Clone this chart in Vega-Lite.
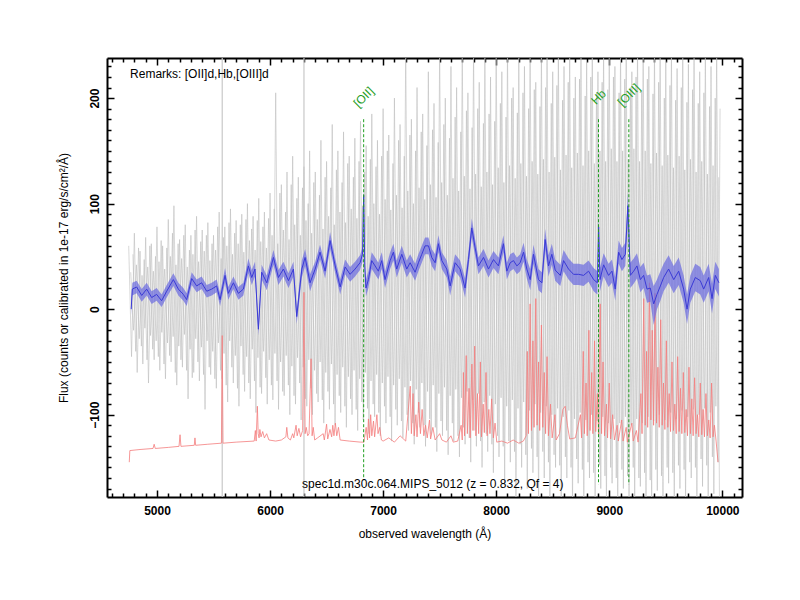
{
  "$schema": "https://vega.github.io/schema/vega-lite/v6.json",
  "width": 635,
  "height": 439,
  "autosize": "none",
  "padding": {"left": 107, "top": 58, "right": 58, "bottom": 103},
  "background": "white",
  "config": {
    "view": {"stroke": null},
    "font": "Liberation Sans",
    "axis": {
      "grid": false,
      "domainColor": "black",
      "domainWidth": 2,
      "tickColor": "black",
      "tickWidth": 1.5,
      "labelFont": "Liberation Sans",
      "labelFontWeight": "bold",
      "labelFontSize": 12,
      "labelColor": "black",
      "titleFont": "Liberation Sans",
      "titleFontWeight": "normal",
      "titleFontSize": 12,
      "titleColor": "black"
    }
  },
  "datasets": {
    "gray": [
      {"s": "a", "w": 4750, "f": 60}, {"s": "a", "w": 4775, "f": -45}, {"s": "a", "w": 4800, "f": 72}, {"s": "a", "w": 4825, "f": -60},
      {"s": "a", "w": 4850, "f": 55}, {"s": "a", "w": 4875, "f": -52}, {"s": "a", "w": 4900, "f": 68}, {"s": "a", "w": 4925, "f": -70},
      {"s": "a", "w": 4950, "f": 62}, {"s": "a", "w": 4975, "f": -48}, {"s": "a", "w": 5000, "f": 78}, {"s": "a", "w": 5025, "f": -58},
      {"s": "a", "w": 5050, "f": 60}, {"s": "a", "w": 5075, "f": -66}, {"s": "a", "w": 5100, "f": 85}, {"s": "a", "w": 5125, "f": -50},
      {"s": "a", "w": 5150, "f": 98}, {"s": "a", "w": 5175, "f": -72}, {"s": "a", "w": 5200, "f": 66}, {"s": "a", "w": 5225, "f": -55},
      {"s": "a", "w": 5250, "f": 80}, {"s": "a", "w": 5275, "f": -85}, {"s": "a", "w": 5300, "f": 70}, {"s": "a", "w": 5325, "f": -60},
      {"s": "a", "w": 5350, "f": 88}, {"s": "a", "w": 5375, "f": -68}, {"s": "a", "w": 5400, "f": 75}, {"s": "a", "w": 5425, "f": -95},
      {"s": "a", "w": 5450, "f": 82}, {"s": "a", "w": 5475, "f": -62}, {"s": "a", "w": 5500, "f": 70}, {"s": "a", "w": 5525, "f": -75},
      {"s": "a", "w": 5550, "f": 92}, {"s": "a", "w": 5575, "f": -66}, {"s": "a", "w": 5600, "f": 78}, {"s": "a", "w": 5625, "f": -88},
      {"s": "a", "w": 5650, "f": 95}, {"s": "a", "w": 5675, "f": -70}, {"s": "a", "w": 5700, "f": 84}, {"s": "a", "w": 5725, "f": -92},
      {"s": "a", "w": 5750, "f": 90}, {"s": "a", "w": 5775, "f": -78}, {"s": "a", "w": 5800, "f": 100}, {"s": "a", "w": 5825, "f": -85},
      {"s": "a", "w": 5850, "f": 88}, {"s": "a", "w": 5875, "f": -98}, {"s": "a", "w": 5900, "f": 105}, {"s": "a", "w": 5925, "f": -80},
      {"s": "a", "w": 5950, "f": 92}, {"s": "a", "w": 5975, "f": -90}, {"s": "a", "w": 6000, "f": 110}, {"s": "a", "w": 6025, "f": -86},
      {"s": "a", "w": 6050, "f": 205}, {"s": "a", "w": 6075, "f": -95}, {"s": "a", "w": 6100, "f": 118}, {"s": "a", "w": 6125, "f": -82},
      {"s": "a", "w": 6150, "f": 130}, {"s": "a", "w": 6175, "f": -100}, {"s": "a", "w": 6200, "f": 145}, {"s": "a", "w": 6225, "f": -90},
      {"s": "a", "w": 6250, "f": 125}, {"s": "a", "w": 6275, "f": -105}, {"s": "a", "w": 6300, "f": 135}, {"s": "a", "w": 6325, "f": -92},
      {"s": "a", "w": 6350, "f": 150}, {"s": "a", "w": 6375, "f": -100}, {"s": "a", "w": 6400, "f": 130}, {"s": "a", "w": 6425, "f": -88},
      {"s": "a", "w": 6450, "f": 160}, {"s": "a", "w": 6475, "f": -108}, {"s": "a", "w": 6500, "f": 140}, {"s": "a", "w": 6525, "f": -95},
      {"s": "a", "w": 6550, "f": 175}, {"s": "a", "w": 6575, "f": -110}, {"s": "a", "w": 6600, "f": 150}, {"s": "a", "w": 6625, "f": -98},
      {"s": "a", "w": 6650, "f": 168}, {"s": "a", "w": 6675, "f": -112}, {"s": "a", "w": 6700, "f": 145}, {"s": "a", "w": 6725, "f": -100},
      {"s": "a", "w": 6750, "f": 162}, {"s": "a", "w": 6775, "f": -115}, {"s": "a", "w": 6800, "f": 178}, {"s": "a", "w": 6825, "f": -105},
      {"s": "a", "w": 6850, "f": 155}, {"s": "a", "w": 6875, "f": -118}, {"s": "a", "w": 6900, "f": 185}, {"s": "a", "w": 6925, "f": -102},
      {"s": "a", "w": 6950, "f": 160}, {"s": "a", "w": 6975, "f": -120}, {"s": "a", "w": 7000, "f": 190}, {"s": "a", "w": 7025, "f": -108},
      {"s": "a", "w": 7050, "f": 165}, {"s": "a", "w": 7075, "f": -125}, {"s": "a", "w": 7100, "f": 200}, {"s": "a", "w": 7125, "f": -110},
      {"s": "a", "w": 7150, "f": 175}, {"s": "a", "w": 7175, "f": -122}, {"s": "a", "w": 7200, "f": 245}, {"s": "a", "w": 7225, "f": -115},
      {"s": "a", "w": 7250, "f": 180}, {"s": "a", "w": 7275, "f": -128}, {"s": "a", "w": 7300, "f": 210}, {"s": "a", "w": 7325, "f": -112},
      {"s": "a", "w": 7350, "f": 185}, {"s": "a", "w": 7375, "f": -130}, {"s": "a", "w": 7400, "f": 225}, {"s": "a", "w": 7425, "f": -118},
      {"s": "a", "w": 7450, "f": 195}, {"s": "a", "w": 7475, "f": -135}, {"s": "a", "w": 7500, "f": 245}, {"s": "a", "w": 7525, "f": -120},
      {"s": "a", "w": 7550, "f": 200}, {"s": "a", "w": 7575, "f": -138}, {"s": "a", "w": 7600, "f": 230}, {"s": "a", "w": 7625, "f": -125},
      {"s": "a", "w": 7650, "f": 210}, {"s": "a", "w": 7675, "f": -140}, {"s": "a", "w": 7700, "f": 245}, {"s": "a", "w": 7725, "f": -128},
      {"s": "a", "w": 7750, "f": 205}, {"s": "a", "w": 7775, "f": -145}, {"s": "a", "w": 7800, "f": 245}, {"s": "a", "w": 7825, "f": -130},
      {"s": "a", "w": 7850, "f": 215}, {"s": "a", "w": 7875, "f": -150}, {"s": "a", "w": 7900, "f": 245}, {"s": "a", "w": 7925, "f": -135},
      {"s": "a", "w": 7950, "f": 220}, {"s": "a", "w": 7975, "f": -155}, {"s": "a", "w": 8000, "f": 245}, {"s": "a", "w": 8025, "f": -140},
      {"s": "a", "w": 8050, "f": 225}, {"s": "a", "w": 8075, "f": -165}, {"s": "a", "w": 8100, "f": 245}, {"s": "a", "w": 8125, "f": -145},
      {"s": "a", "w": 8150, "f": 210}, {"s": "a", "w": 8175, "f": -185}, {"s": "a", "w": 8200, "f": 245}, {"s": "a", "w": 8225, "f": -150},
      {"s": "a", "w": 8250, "f": 230}, {"s": "a", "w": 8275, "f": -170}, {"s": "a", "w": 8300, "f": 245}, {"s": "a", "w": 8325, "f": -155},
      {"s": "a", "w": 8350, "f": 215}, {"s": "a", "w": 8375, "f": -185}, {"s": "a", "w": 8400, "f": 245}, {"s": "a", "w": 8425, "f": -160},
      {"s": "a", "w": 8450, "f": 245}, {"s": "a", "w": 8475, "f": -185}, {"s": "a", "w": 8500, "f": 225}, {"s": "a", "w": 8525, "f": -150},
      {"s": "a", "w": 8550, "f": 245}, {"s": "a", "w": 8575, "f": -185}, {"s": "a", "w": 8600, "f": 230}, {"s": "a", "w": 8625, "f": -160},
      {"s": "a", "w": 8650, "f": 245}, {"s": "a", "w": 8675, "f": -185}, {"s": "a", "w": 8700, "f": 220}, {"s": "a", "w": 8725, "f": -165},
      {"s": "a", "w": 8750, "f": 245}, {"s": "a", "w": 8775, "f": -185}, {"s": "a", "w": 8800, "f": 235}, {"s": "a", "w": 8825, "f": -160},
      {"s": "a", "w": 8850, "f": 245}, {"s": "a", "w": 8875, "f": -185}, {"s": "a", "w": 8900, "f": 225}, {"s": "a", "w": 8925, "f": -170},
      {"s": "a", "w": 8950, "f": 245}, {"s": "a", "w": 8975, "f": -185}, {"s": "a", "w": 9000, "f": 245}, {"s": "a", "w": 9025, "f": -165},
      {"s": "a", "w": 9050, "f": 230}, {"s": "a", "w": 9075, "f": -185}, {"s": "a", "w": 9100, "f": 245}, {"s": "a", "w": 9125, "f": -170},
      {"s": "a", "w": 9150, "f": 245}, {"s": "a", "w": 9175, "f": -185}, {"s": "a", "w": 9200, "f": 225}, {"s": "a", "w": 9225, "f": -185},
      {"s": "a", "w": 9250, "f": 245}, {"s": "a", "w": 9275, "f": -168}, {"s": "a", "w": 9300, "f": 245}, {"s": "a", "w": 9325, "f": -185},
      {"s": "a", "w": 9350, "f": 230}, {"s": "a", "w": 9375, "f": -185}, {"s": "a", "w": 9400, "f": 245}, {"s": "a", "w": 9425, "f": -172},
      {"s": "a", "w": 9450, "f": 245}, {"s": "a", "w": 9475, "f": -185}, {"s": "a", "w": 9500, "f": 235}, {"s": "a", "w": 9525, "f": -165},
      {"s": "a", "w": 9550, "f": 245}, {"s": "a", "w": 9575, "f": -185}, {"s": "a", "w": 9600, "f": 228}, {"s": "a", "w": 9625, "f": -170},
      {"s": "a", "w": 9650, "f": 245}, {"s": "a", "w": 9675, "f": -185}, {"s": "a", "w": 9700, "f": 232}, {"s": "a", "w": 9725, "f": -160},
      {"s": "a", "w": 9750, "f": 245}, {"s": "a", "w": 9775, "f": -185}, {"s": "a", "w": 9800, "f": 225}, {"s": "a", "w": 9825, "f": -168},
      {"s": "a", "w": 9850, "f": 245}, {"s": "a", "w": 9875, "f": -185}, {"s": "a", "w": 9900, "f": 230}, {"s": "a", "w": 9925, "f": -175},
      {"s": "a", "w": 9950, "f": 245}, {"s": "a", "w": 9975, "f": -185},

      {"s": "b", "w": 4787, "f": 52}, {"s": "b", "w": 4812, "f": -40}, {"s": "b", "w": 4837, "f": 58}, {"s": "b", "w": 4862, "f": -35},
      {"s": "b", "w": 4887, "f": 47}, {"s": "b", "w": 4912, "f": -48}, {"s": "b", "w": 4937, "f": 60}, {"s": "b", "w": 4962, "f": -38},
      {"s": "b", "w": 4987, "f": 50}, {"s": "b", "w": 5012, "f": -45}, {"s": "b", "w": 5037, "f": 65}, {"s": "b", "w": 5062, "f": -52},
      {"s": "b", "w": 5087, "f": 58}, {"s": "b", "w": 5112, "f": -44}, {"s": "b", "w": 5137, "f": 72}, {"s": "b", "w": 5162, "f": -60},
      {"s": "b", "w": 5187, "f": 62}, {"s": "b", "w": 5212, "f": -48}, {"s": "b", "w": 5237, "f": 70}, {"s": "b", "w": 5262, "f": -58},
      {"s": "b", "w": 5287, "f": 56}, {"s": "b", "w": 5312, "f": -65}, {"s": "b", "w": 5337, "f": 75}, {"s": "b", "w": 5362, "f": -50},
      {"s": "b", "w": 5387, "f": 64}, {"s": "b", "w": 5412, "f": -62}, {"s": "b", "w": 5437, "f": 70}, {"s": "b", "w": 5462, "f": -55},
      {"s": "b", "w": 5487, "f": 62}, {"s": "b", "w": 5512, "f": -66}, {"s": "b", "w": 5537, "f": 78}, {"s": "b", "w": 5562, "f": -58},
      {"s": "b", "w": 5587, "f": 68}, {"s": "b", "w": 5612, "f": -72}, {"s": "b", "w": 5637, "f": 82}, {"s": "b", "w": 5662, "f": -55},
      {"s": "b", "w": 5687, "f": 72}, {"s": "b", "w": 5712, "f": -75}, {"s": "b", "w": 5737, "f": 80}, {"s": "b", "w": 5762, "f": -62},
      {"s": "b", "w": 5787, "f": 85}, {"s": "b", "w": 5812, "f": -70}, {"s": "b", "w": 5837, "f": 76}, {"s": "b", "w": 5862, "f": -68},
      {"s": "b", "w": 5887, "f": 84}, {"s": "b", "w": 5912, "f": -74}, {"s": "b", "w": 5937, "f": 78}, {"s": "b", "w": 5962, "f": -65},
      {"s": "b", "w": 5987, "f": 86}, {"s": "b", "w": 6012, "f": -72}, {"s": "b", "w": 6037, "f": 95}, {"s": "b", "w": 6062, "f": -68},
      {"s": "b", "w": 6087, "f": 110}, {"s": "b", "w": 6112, "f": -78}, {"s": "b", "w": 6137, "f": 92}, {"s": "b", "w": 6162, "f": -72},
      {"s": "b", "w": 6187, "f": 118}, {"s": "b", "w": 6212, "f": -82}, {"s": "b", "w": 6237, "f": 105}, {"s": "b", "w": 6262, "f": -70},
      {"s": "b", "w": 6287, "f": 115}, {"s": "b", "w": 6312, "f": -85}, {"s": "b", "w": 6337, "f": 100}, {"s": "b", "w": 6362, "f": -75},
      {"s": "b", "w": 6387, "f": 120}, {"s": "b", "w": 6412, "f": -80}, {"s": "b", "w": 6437, "f": 108}, {"s": "b", "w": 6462, "f": -86},
      {"s": "b", "w": 6487, "f": 125}, {"s": "b", "w": 6512, "f": -78}, {"s": "b", "w": 6537, "f": 115}, {"s": "b", "w": 6562, "f": -90},
      {"s": "b", "w": 6587, "f": 132}, {"s": "b", "w": 6612, "f": -82}, {"s": "b", "w": 6637, "f": 120}, {"s": "b", "w": 6662, "f": -92},
      {"s": "b", "w": 6687, "f": 138}, {"s": "b", "w": 6712, "f": -85}, {"s": "b", "w": 6737, "f": 125}, {"s": "b", "w": 6762, "f": -95},
      {"s": "b", "w": 6787, "f": 140}, {"s": "b", "w": 6812, "f": -88}, {"s": "b", "w": 6837, "f": 130}, {"s": "b", "w": 6862, "f": -94},
      {"s": "b", "w": 6887, "f": 142}, {"s": "b", "w": 6912, "f": -90}, {"s": "b", "w": 6937, "f": 135}, {"s": "b", "w": 6962, "f": -98},
      {"s": "b", "w": 6987, "f": 145}, {"s": "b", "w": 7012, "f": -92}, {"s": "b", "w": 7037, "f": 150}, {"s": "b", "w": 7062, "f": -102},
      {"s": "b", "w": 7087, "f": 138}, {"s": "b", "w": 7112, "f": -95}, {"s": "b", "w": 7137, "f": 160}, {"s": "b", "w": 7162, "f": -106},
      {"s": "b", "w": 7187, "f": 145}, {"s": "b", "w": 7212, "f": -100}, {"s": "b", "w": 7237, "f": 165}, {"s": "b", "w": 7262, "f": -108},
      {"s": "b", "w": 7287, "f": 150}, {"s": "b", "w": 7312, "f": -98}, {"s": "b", "w": 7337, "f": 168}, {"s": "b", "w": 7362, "f": -110},
      {"s": "b", "w": 7387, "f": 155}, {"s": "b", "w": 7412, "f": -104}, {"s": "b", "w": 7437, "f": 170}, {"s": "b", "w": 7462, "f": -112},
      {"s": "b", "w": 7487, "f": 158}, {"s": "b", "w": 7512, "f": -106}, {"s": "b", "w": 7537, "f": 175}, {"s": "b", "w": 7562, "f": -115},
      {"s": "b", "w": 7587, "f": 162}, {"s": "b", "w": 7612, "f": -108}, {"s": "b", "w": 7637, "f": 182}, {"s": "b", "w": 7662, "f": -120},
      {"s": "b", "w": 7687, "f": 168}, {"s": "b", "w": 7712, "f": -112}, {"s": "b", "w": 7737, "f": 188}, {"s": "b", "w": 7762, "f": -122},
      {"s": "b", "w": 7787, "f": 172}, {"s": "b", "w": 7812, "f": -115}, {"s": "b", "w": 7837, "f": 190}, {"s": "b", "w": 7862, "f": -125},
      {"s": "b", "w": 7887, "f": 176}, {"s": "b", "w": 7912, "f": -118}, {"s": "b", "w": 7937, "f": 185}, {"s": "b", "w": 7962, "f": -128},
      {"s": "b", "w": 7987, "f": 178}, {"s": "b", "w": 8012, "f": -120}, {"s": "b", "w": 8037, "f": 195}, {"s": "b", "w": 8062, "f": -130},
      {"s": "b", "w": 8087, "f": 182}, {"s": "b", "w": 8112, "f": -125}, {"s": "b", "w": 8137, "f": 200}, {"s": "b", "w": 8162, "f": -135},
      {"s": "b", "w": 8187, "f": 186}, {"s": "b", "w": 8212, "f": -128}, {"s": "b", "w": 8237, "f": 205}, {"s": "b", "w": 8262, "f": -138},
      {"s": "b", "w": 8287, "f": 190}, {"s": "b", "w": 8312, "f": -132}, {"s": "b", "w": 8337, "f": 208}, {"s": "b", "w": 8362, "f": -140},
      {"s": "b", "w": 8387, "f": 192}, {"s": "b", "w": 8412, "f": -135}, {"s": "b", "w": 8437, "f": 210}, {"s": "b", "w": 8462, "f": -145},
      {"s": "b", "w": 8487, "f": 195}, {"s": "b", "w": 8512, "f": -138}, {"s": "b", "w": 8537, "f": 212}, {"s": "b", "w": 8562, "f": -148},
      {"s": "b", "w": 8587, "f": 198}, {"s": "b", "w": 8612, "f": -140}, {"s": "b", "w": 8637, "f": 215}, {"s": "b", "w": 8662, "f": -150},
      {"s": "b", "w": 8687, "f": 200}, {"s": "b", "w": 8712, "f": -142}, {"s": "b", "w": 8737, "f": 218}, {"s": "b", "w": 8762, "f": -152},
      {"s": "b", "w": 8787, "f": 202}, {"s": "b", "w": 8812, "f": -145}, {"s": "b", "w": 8837, "f": 220}, {"s": "b", "w": 8862, "f": -155},
      {"s": "b", "w": 8887, "f": 205}, {"s": "b", "w": 8912, "f": -148}, {"s": "b", "w": 8937, "f": 215}, {"s": "b", "w": 8962, "f": -158},
      {"s": "b", "w": 8987, "f": 208}, {"s": "b", "w": 9012, "f": -150}, {"s": "b", "w": 9037, "f": 220}, {"s": "b", "w": 9062, "f": -160},
      {"s": "b", "w": 9087, "f": 205}, {"s": "b", "w": 9112, "f": -152}, {"s": "b", "w": 9137, "f": 218}, {"s": "b", "w": 9162, "f": -158},
      {"s": "b", "w": 9187, "f": 210}, {"s": "b", "w": 9212, "f": -150}, {"s": "b", "w": 9237, "f": 220}, {"s": "b", "w": 9262, "f": -160},
      {"s": "b", "w": 9287, "f": 206}, {"s": "b", "w": 9312, "f": -155}, {"s": "b", "w": 9337, "f": 218}, {"s": "b", "w": 9362, "f": -162},
      {"s": "b", "w": 9387, "f": 204}, {"s": "b", "w": 9412, "f": -152}, {"s": "b", "w": 9437, "f": 215}, {"s": "b", "w": 9462, "f": -158},
      {"s": "b", "w": 9487, "f": 200}, {"s": "b", "w": 9512, "f": -150}, {"s": "b", "w": 9537, "f": 212}, {"s": "b", "w": 9562, "f": -155},
      {"s": "b", "w": 9587, "f": 198}, {"s": "b", "w": 9612, "f": -148}, {"s": "b", "w": 9637, "f": 210}, {"s": "b", "w": 9662, "f": -152},
      {"s": "b", "w": 9687, "f": 196}, {"s": "b", "w": 9712, "f": -145}, {"s": "b", "w": 9737, "f": 208}, {"s": "b", "w": 9762, "f": -150},
      {"s": "b", "w": 9787, "f": 195}, {"s": "b", "w": 9812, "f": -142}, {"s": "b", "w": 9837, "f": 205}, {"s": "b", "w": 9862, "f": -148},
      {"s": "b", "w": 9887, "f": 192}, {"s": "b", "w": 9912, "f": -140}, {"s": "b", "w": 9937, "f": 200}, {"s": "b", "w": 9962, "f": -145},
      {"s": "b", "w": 9980, "f": 190},

      {"s": "c", "w": 4768, "f": 35}, {"s": "c", "w": 4793, "f": -20}, {"s": "c", "w": 4818, "f": 42}, {"s": "c", "w": 4843, "f": -28},
      {"s": "c", "w": 4868, "f": 32}, {"s": "c", "w": 4893, "f": -18}, {"s": "c", "w": 4918, "f": 40}, {"s": "c", "w": 4943, "f": -25},
      {"s": "c", "w": 4968, "f": 36}, {"s": "c", "w": 4993, "f": -30}, {"s": "c", "w": 5018, "f": 45}, {"s": "c", "w": 5043, "f": -22},
      {"s": "c", "w": 5068, "f": 38}, {"s": "c", "w": 5093, "f": -32}, {"s": "c", "w": 5118, "f": 50}, {"s": "c", "w": 5143, "f": -26},
      {"s": "c", "w": 5168, "f": 42}, {"s": "c", "w": 5193, "f": -35}, {"s": "c", "w": 5218, "f": 48}, {"s": "c", "w": 5243, "f": -24},
      {"s": "c", "w": 5268, "f": 40}, {"s": "c", "w": 5293, "f": -38}, {"s": "c", "w": 5318, "f": 52}, {"s": "c", "w": 5343, "f": -28},
      {"s": "c", "w": 5368, "f": 45}, {"s": "c", "w": 5393, "f": -36}, {"s": "c", "w": 5418, "f": 55}, {"s": "c", "w": 5443, "f": -30},
      {"s": "c", "w": 5468, "f": 46}, {"s": "c", "w": 5493, "f": -40}, {"s": "c", "w": 5518, "f": 56}, {"s": "c", "w": 5543, "f": -32},
      {"s": "c", "w": 5568, "f": 48}, {"s": "c", "w": 5593, "f": -42}, {"s": "c", "w": 5618, "f": 60}, {"s": "c", "w": 5643, "f": -30},
      {"s": "c", "w": 5668, "f": 52}, {"s": "c", "w": 5693, "f": -44}, {"s": "c", "w": 5718, "f": 62}, {"s": "c", "w": 5743, "f": -35},
      {"s": "c", "w": 5768, "f": 54}, {"s": "c", "w": 5793, "f": -45}, {"s": "c", "w": 5818, "f": 65}, {"s": "c", "w": 5843, "f": -38},
      {"s": "c", "w": 5868, "f": 56}, {"s": "c", "w": 5893, "f": -46}, {"s": "c", "w": 5918, "f": 64}, {"s": "c", "w": 5943, "f": -40},
      {"s": "c", "w": 5968, "f": 58}, {"s": "c", "w": 5993, "f": -48}, {"s": "c", "w": 6018, "f": 70}, {"s": "c", "w": 6043, "f": -42},
      {"s": "c", "w": 6068, "f": 62}, {"s": "c", "w": 6093, "f": -50}, {"s": "c", "w": 6118, "f": 75}, {"s": "c", "w": 6143, "f": -44},
      {"s": "c", "w": 6168, "f": 66}, {"s": "c", "w": 6193, "f": -54}, {"s": "c", "w": 6218, "f": 80}, {"s": "c", "w": 6243, "f": -46},
      {"s": "c", "w": 6268, "f": 70}, {"s": "c", "w": 6293, "f": -55}, {"s": "c", "w": 6318, "f": 84}, {"s": "c", "w": 6343, "f": -48},
      {"s": "c", "w": 6368, "f": 72}, {"s": "c", "w": 6393, "f": -58}, {"s": "c", "w": 6418, "f": 85}, {"s": "c", "w": 6443, "f": -50},
      {"s": "c", "w": 6468, "f": 76}, {"s": "c", "w": 6493, "f": -60}, {"s": "c", "w": 6518, "f": 88}, {"s": "c", "w": 6543, "f": -52},
      {"s": "c", "w": 6568, "f": 80}, {"s": "c", "w": 6593, "f": -62}, {"s": "c", "w": 6618, "f": 92}, {"s": "c", "w": 6643, "f": -55},
      {"s": "c", "w": 6668, "f": 82}, {"s": "c", "w": 6693, "f": -64}, {"s": "c", "w": 6718, "f": 95}, {"s": "c", "w": 6743, "f": -58},
      {"s": "c", "w": 6768, "f": 86}, {"s": "c", "w": 6793, "f": -66}, {"s": "c", "w": 6818, "f": 98}, {"s": "c", "w": 6843, "f": -60},
      {"s": "c", "w": 6868, "f": 88}, {"s": "c", "w": 6893, "f": -68}, {"s": "c", "w": 6918, "f": 100}, {"s": "c", "w": 6943, "f": -62},
      {"s": "c", "w": 6968, "f": 90}, {"s": "c", "w": 6993, "f": -70}, {"s": "c", "w": 7018, "f": 104}, {"s": "c", "w": 7043, "f": -64},
      {"s": "c", "w": 7068, "f": 94}, {"s": "c", "w": 7093, "f": -72}, {"s": "c", "w": 7118, "f": 108}, {"s": "c", "w": 7143, "f": -66},
      {"s": "c", "w": 7168, "f": 96}, {"s": "c", "w": 7193, "f": -74}, {"s": "c", "w": 7218, "f": 112}, {"s": "c", "w": 7243, "f": -68},
      {"s": "c", "w": 7268, "f": 100}, {"s": "c", "w": 7293, "f": -76}, {"s": "c", "w": 7318, "f": 115}, {"s": "c", "w": 7343, "f": -70},
      {"s": "c", "w": 7368, "f": 104}, {"s": "c", "w": 7393, "f": -78}, {"s": "c", "w": 7418, "f": 118}, {"s": "c", "w": 7443, "f": -72},
      {"s": "c", "w": 7468, "f": 106}, {"s": "c", "w": 7493, "f": -80}, {"s": "c", "w": 7518, "f": 120}, {"s": "c", "w": 7543, "f": -74},
      {"s": "c", "w": 7568, "f": 108}, {"s": "c", "w": 7593, "f": -82}, {"s": "c", "w": 7618, "f": 124}, {"s": "c", "w": 7643, "f": -76},
      {"s": "c", "w": 7668, "f": 112}, {"s": "c", "w": 7693, "f": -84}, {"s": "c", "w": 7718, "f": 126}, {"s": "c", "w": 7743, "f": -78},
      {"s": "c", "w": 7768, "f": 114}, {"s": "c", "w": 7793, "f": -86}, {"s": "c", "w": 7818, "f": 128}, {"s": "c", "w": 7843, "f": -80},
      {"s": "c", "w": 7868, "f": 116}, {"s": "c", "w": 7893, "f": -88}, {"s": "c", "w": 7918, "f": 130}, {"s": "c", "w": 7943, "f": -82},
      {"s": "c", "w": 7968, "f": 118}, {"s": "c", "w": 7993, "f": -90}, {"s": "c", "w": 8018, "f": 134}, {"s": "c", "w": 8043, "f": -84},
      {"s": "c", "w": 8068, "f": 120}, {"s": "c", "w": 8093, "f": -92}, {"s": "c", "w": 8118, "f": 136}, {"s": "c", "w": 8143, "f": -86},
      {"s": "c", "w": 8168, "f": 124}, {"s": "c", "w": 8193, "f": -94}, {"s": "c", "w": 8218, "f": 138}, {"s": "c", "w": 8243, "f": -88},
      {"s": "c", "w": 8268, "f": 126}, {"s": "c", "w": 8293, "f": -96}, {"s": "c", "w": 8318, "f": 140}, {"s": "c", "w": 8343, "f": -90},
      {"s": "c", "w": 8368, "f": 128}, {"s": "c", "w": 8393, "f": -98}, {"s": "c", "w": 8418, "f": 142}, {"s": "c", "w": 8443, "f": -92},
      {"s": "c", "w": 8468, "f": 130}, {"s": "c", "w": 8493, "f": -100}, {"s": "c", "w": 8518, "f": 144}, {"s": "c", "w": 8543, "f": -94},
      {"s": "c", "w": 8568, "f": 132}, {"s": "c", "w": 8593, "f": -102}, {"s": "c", "w": 8618, "f": 146}, {"s": "c", "w": 8643, "f": -96},
      {"s": "c", "w": 8668, "f": 134}, {"s": "c", "w": 8693, "f": -104}, {"s": "c", "w": 8718, "f": 148}, {"s": "c", "w": 8743, "f": -98},
      {"s": "c", "w": 8768, "f": 136}, {"s": "c", "w": 8793, "f": -105}, {"s": "c", "w": 8818, "f": 150}, {"s": "c", "w": 8843, "f": -100},
      {"s": "c", "w": 8868, "f": 138}, {"s": "c", "w": 8893, "f": -106}, {"s": "c", "w": 8918, "f": 150}, {"s": "c", "w": 8943, "f": -102},
      {"s": "c", "w": 8968, "f": 140}, {"s": "c", "w": 8993, "f": -108}, {"s": "c", "w": 9018, "f": 152}, {"s": "c", "w": 9043, "f": -104},
      {"s": "c", "w": 9068, "f": 140}, {"s": "c", "w": 9093, "f": -108}, {"s": "c", "w": 9118, "f": 150}, {"s": "c", "w": 9143, "f": -102},
      {"s": "c", "w": 9168, "f": 142}, {"s": "c", "w": 9193, "f": -110}, {"s": "c", "w": 9218, "f": 152}, {"s": "c", "w": 9243, "f": -104},
      {"s": "c", "w": 9268, "f": 140}, {"s": "c", "w": 9293, "f": -108}, {"s": "c", "w": 9318, "f": 150}, {"s": "c", "w": 9343, "f": -102},
      {"s": "c", "w": 9368, "f": 138}, {"s": "c", "w": 9393, "f": -106}, {"s": "c", "w": 9418, "f": 148}, {"s": "c", "w": 9443, "f": -100},
      {"s": "c", "w": 9468, "f": 136}, {"s": "c", "w": 9493, "f": -105}, {"s": "c", "w": 9518, "f": 146}, {"s": "c", "w": 9543, "f": -98},
      {"s": "c", "w": 9568, "f": 134}, {"s": "c", "w": 9593, "f": -104}, {"s": "c", "w": 9618, "f": 145}, {"s": "c", "w": 9643, "f": -96},
      {"s": "c", "w": 9668, "f": 132}, {"s": "c", "w": 9693, "f": -102}, {"s": "c", "w": 9718, "f": 142}, {"s": "c", "w": 9743, "f": -95},
      {"s": "c", "w": 9768, "f": 130}, {"s": "c", "w": 9793, "f": -100}, {"s": "c", "w": 9818, "f": 140}, {"s": "c", "w": 9843, "f": -94},
      {"s": "c", "w": 9868, "f": 128}, {"s": "c", "w": 9893, "f": -98}, {"s": "c", "w": 9918, "f": 136}, {"s": "c", "w": 9943, "f": -92},
      {"s": "c", "w": 9968, "f": 125}
    ],
    "skyline": [
      {"w": 5577, "lo": -185, "hi": 245},
      {"w": 6300, "lo": -185, "hi": 245}
    ],
    "red": [
      {"w": 4755, "f": -145}, {"w": 4760, "f": -134}, {"w": 4850, "f": -133}, {"w": 4965, "f": -132},
      {"w": 4975, "f": -128}, {"w": 4985, "f": -132}, {"w": 5100, "f": -131}, {"w": 5195, "f": -130},
      {"w": 5204, "f": -119}, {"w": 5212, "f": -130}, {"w": 5330, "f": -129}, {"w": 5336, "f": -122},
      {"w": 5342, "f": -129}, {"w": 5450, "f": -128}, {"w": 5570, "f": -127}, {"w": 5577, "f": -25},
      {"w": 5584, "f": -127}, {"w": 5700, "f": -126}, {"w": 5860, "f": -125}, {"w": 5870, "f": -115},
      {"w": 5877, "f": -125}, {"w": 5888, "f": -92}, {"w": 5895, "f": -118}, {"w": 5903, "f": -122},
      {"w": 5910, "f": -114}, {"w": 5920, "f": -121}, {"w": 5935, "f": -116}, {"w": 5950, "f": -122},
      {"w": 5970, "f": -118}, {"w": 5990, "f": -124}, {"w": 6050, "f": -125}, {"w": 6100, "f": -124},
      {"w": 6140, "f": -121}, {"w": 6148, "f": -112}, {"w": 6158, "f": -122}, {"w": 6180, "f": -124},
      {"w": 6200, "f": -118}, {"w": 6210, "f": -122}, {"w": 6230, "f": -110}, {"w": 6240, "f": -120},
      {"w": 6255, "f": -113}, {"w": 6270, "f": -121}, {"w": 6288, "f": -115}, {"w": 6300, "f": 16},
      {"w": 6310, "f": -118}, {"w": 6320, "f": -112}, {"w": 6333, "f": -120}, {"w": 6345, "f": -118},
      {"w": 6363, "f": -47}, {"w": 6372, "f": -120}, {"w": 6382, "f": -112}, {"w": 6395, "f": -124},
      {"w": 6420, "f": -122}, {"w": 6470, "f": -118}, {"w": 6480, "f": -124}, {"w": 6500, "f": -109},
      {"w": 6510, "f": -123}, {"w": 6530, "f": -114}, {"w": 6545, "f": -121}, {"w": 6555, "f": -110},
      {"w": 6565, "f": -120}, {"w": 6578, "f": -108}, {"w": 6590, "f": -120}, {"w": 6605, "f": -112},
      {"w": 6620, "f": -124}, {"w": 6700, "f": -125}, {"w": 6800, "f": -126}, {"w": 6830, "f": -126},
      {"w": 6850, "f": -112}, {"w": 6862, "f": -124}, {"w": 6870, "f": -104}, {"w": 6880, "f": -122},
      {"w": 6890, "f": -100}, {"w": 6900, "f": -120}, {"w": 6915, "f": -106}, {"w": 6925, "f": -121},
      {"w": 6945, "f": -100}, {"w": 6955, "f": -118}, {"w": 6970, "f": -112}, {"w": 6985, "f": -124},
      {"w": 7000, "f": -125}, {"w": 7050, "f": -122}, {"w": 7100, "f": -126}, {"w": 7150, "f": -120},
      {"w": 7200, "f": -125}, {"w": 7240, "f": -73}, {"w": 7250, "f": -118}, {"w": 7265, "f": -80},
      {"w": 7275, "f": -120}, {"w": 7290, "f": -100}, {"w": 7300, "f": -121}, {"w": 7315, "f": -88},
      {"w": 7330, "f": -118}, {"w": 7345, "f": -95}, {"w": 7360, "f": -120}, {"w": 7375, "f": -110},
      {"w": 7390, "f": -122}, {"w": 7410, "f": -105}, {"w": 7420, "f": -123}, {"w": 7440, "f": -112},
      {"w": 7460, "f": -124}, {"w": 7500, "f": -118}, {"w": 7520, "f": -124}, {"w": 7560, "f": -126},
      {"w": 7600, "f": -120}, {"w": 7620, "f": -126}, {"w": 7660, "f": -125}, {"w": 7690, "f": -110},
      {"w": 7700, "f": -124}, {"w": 7710, "f": -60}, {"w": 7720, "f": -120}, {"w": 7735, "f": -44},
      {"w": 7745, "f": -118}, {"w": 7760, "f": -75}, {"w": 7770, "f": -122}, {"w": 7785, "f": -52},
      {"w": 7795, "f": -115}, {"w": 7810, "f": -35}, {"w": 7820, "f": -120}, {"w": 7835, "f": -80},
      {"w": 7845, "f": -118}, {"w": 7860, "f": -50}, {"w": 7870, "f": -121}, {"w": 7885, "f": -90},
      {"w": 7895, "f": -117}, {"w": 7910, "f": -60}, {"w": 7920, "f": -120}, {"w": 7935, "f": -95},
      {"w": 7945, "f": -118}, {"w": 7960, "f": -85}, {"w": 7975, "f": -122}, {"w": 7990, "f": -108},
      {"w": 8005, "f": -126}, {"w": 8050, "f": -125}, {"w": 8100, "f": -127}, {"w": 8150, "f": -124},
      {"w": 8200, "f": -127}, {"w": 8240, "f": -125}, {"w": 8265, "f": -120}, {"w": 8275, "f": -40},
      {"w": 8285, "f": -118}, {"w": 8300, "f": 5}, {"w": 8312, "f": -115}, {"w": 8325, "f": -30},
      {"w": 8335, "f": -112}, {"w": 8350, "f": 10}, {"w": 8362, "f": -110}, {"w": 8375, "f": -50},
      {"w": 8385, "f": -115}, {"w": 8400, "f": -15}, {"w": 8412, "f": -112}, {"w": 8425, "f": -60},
      {"w": 8437, "f": -118}, {"w": 8450, "f": -45}, {"w": 8462, "f": -120}, {"w": 8480, "f": -90},
      {"w": 8495, "f": -122}, {"w": 8520, "f": -100}, {"w": 8530, "f": -124}, {"w": 8560, "f": -118},
      {"w": 8590, "f": -95}, {"w": 8610, "f": -92}, {"w": 8630, "f": -110}, {"w": 8650, "f": -123},
      {"w": 8700, "f": -122}, {"w": 8745, "f": -100}, {"w": 8755, "f": -122}, {"w": 8770, "f": -40},
      {"w": 8780, "f": -118}, {"w": 8795, "f": -70}, {"w": 8805, "f": -120}, {"w": 8820, "f": -20},
      {"w": 8830, "f": -115}, {"w": 8845, "f": -60}, {"w": 8855, "f": -118}, {"w": 8870, "f": -30},
      {"w": 8880, "f": -116}, {"w": 8895, "f": -80}, {"w": 8905, "f": -120}, {"w": 8920, "f": 5},
      {"w": 8932, "f": -118}, {"w": 8945, "f": -50}, {"w": 8958, "f": -120}, {"w": 8975, "f": -90},
      {"w": 8985, "f": -122}, {"w": 9000, "f": -70}, {"w": 9012, "f": -123}, {"w": 9030, "f": -100},
      {"w": 9045, "f": -124}, {"w": 9070, "f": -110}, {"w": 9080, "f": -125}, {"w": 9110, "f": -105},
      {"w": 9122, "f": -125}, {"w": 9150, "f": -112}, {"w": 9160, "f": -126}, {"w": 9200, "f": -108},
      {"w": 9212, "f": -125}, {"w": 9240, "f": -115}, {"w": 9255, "f": -126}, {"w": 9280, "f": -80},
      {"w": 9290, "f": -118}, {"w": 9305, "f": 10}, {"w": 9318, "f": -110}, {"w": 9330, "f": -40},
      {"w": 9340, "f": -112}, {"w": 9355, "f": 25}, {"w": 9368, "f": -105}, {"w": 9380, "f": -20},
      {"w": 9392, "f": -110}, {"w": 9405, "f": 15}, {"w": 9418, "f": -108}, {"w": 9430, "f": -55},
      {"w": 9442, "f": -112}, {"w": 9455, "f": -10}, {"w": 9468, "f": -110}, {"w": 9480, "f": -70},
      {"w": 9492, "f": -114}, {"w": 9505, "f": -30}, {"w": 9518, "f": -112}, {"w": 9530, "f": -80},
      {"w": 9542, "f": -116}, {"w": 9555, "f": -50}, {"w": 9568, "f": -115}, {"w": 9580, "f": -90},
      {"w": 9592, "f": -118}, {"w": 9605, "f": -45}, {"w": 9618, "f": -116}, {"w": 9630, "f": -75},
      {"w": 9642, "f": -118}, {"w": 9655, "f": -60}, {"w": 9668, "f": -117}, {"w": 9680, "f": -95},
      {"w": 9692, "f": -120}, {"w": 9705, "f": -55}, {"w": 9718, "f": -118}, {"w": 9730, "f": -85},
      {"w": 9742, "f": -120}, {"w": 9755, "f": -65}, {"w": 9768, "f": -118}, {"w": 9780, "f": -100},
      {"w": 9792, "f": -121}, {"w": 9805, "f": -70}, {"w": 9818, "f": -119}, {"w": 9830, "f": -95},
      {"w": 9842, "f": -121}, {"w": 9855, "f": -80}, {"w": 9868, "f": -120}, {"w": 9880, "f": -105},
      {"w": 9892, "f": -122}, {"w": 9905, "f": -70}, {"w": 9918, "f": -121}, {"w": 9930, "f": -110},
      {"w": 9945, "f": -125}, {"w": 9962, "f": -145}
    ],
    "blue": [
      {"w": 4772, "f": 0, "lo": -6, "hi": 6}, {"w": 4782, "f": 19, "lo": 13, "hi": 25},
      {"w": 4820, "f": 21, "lo": 15, "hi": 27}, {"w": 4865, "f": 13, "lo": 7, "hi": 19},
      {"w": 4909, "f": 19, "lo": 13, "hi": 25}, {"w": 4953, "f": 11, "lo": 5, "hi": 17},
      {"w": 4997, "f": 14, "lo": 8, "hi": 20}, {"w": 5041, "f": 8, "lo": 2, "hi": 14},
      {"w": 5086, "f": 17, "lo": 11, "hi": 23}, {"w": 5145, "f": 28, "lo": 22, "hi": 34},
      {"w": 5189, "f": 19, "lo": 13, "hi": 25}, {"w": 5233, "f": 14, "lo": 8, "hi": 20},
      {"w": 5263, "f": 9, "lo": 3, "hi": 15}, {"w": 5307, "f": 29, "lo": 23, "hi": 35},
      {"w": 5351, "f": 22, "lo": 16, "hi": 28}, {"w": 5395, "f": 25, "lo": 19, "hi": 31},
      {"w": 5440, "f": 17, "lo": 11, "hi": 23}, {"w": 5484, "f": 19, "lo": 13, "hi": 25},
      {"w": 5528, "f": 22, "lo": 16, "hi": 28}, {"w": 5558, "f": 9, "lo": 3, "hi": 15},
      {"w": 5602, "f": 32, "lo": 25, "hi": 39}, {"w": 5631, "f": 15, "lo": 9, "hi": 21},
      {"w": 5676, "f": 25, "lo": 19, "hi": 31}, {"w": 5720, "f": 15, "lo": 9, "hi": 21},
      {"w": 5764, "f": 19, "lo": 13, "hi": 25}, {"w": 5808, "f": 41, "lo": 34, "hi": 48},
      {"w": 5838, "f": 30, "lo": 23, "hi": 37}, {"w": 5867, "f": 38, "lo": 31, "hi": 45},
      {"w": 5897, "f": -19, "lo": -25, "hi": -13}, {"w": 5926, "f": 35, "lo": 28, "hi": 42},
      {"w": 5971, "f": 25, "lo": 18, "hi": 32}, {"w": 6030, "f": 49, "lo": 42, "hi": 56},
      {"w": 6074, "f": 30, "lo": 23, "hi": 37}, {"w": 6118, "f": 38, "lo": 31, "hi": 45},
      {"w": 6163, "f": 27, "lo": 20, "hi": 34}, {"w": 6207, "f": 38, "lo": 31, "hi": 45},
      {"w": 6236, "f": -7, "lo": -14, "hi": 0}, {"w": 6281, "f": 38, "lo": 30, "hi": 46},
      {"w": 6310, "f": 49, "lo": 41, "hi": 57}, {"w": 6354, "f": 25, "lo": 17, "hi": 33},
      {"w": 6399, "f": 38, "lo": 31, "hi": 45}, {"w": 6442, "f": 54, "lo": 47, "hi": 61},
      {"w": 6487, "f": 36, "lo": 29, "hi": 43}, {"w": 6531, "f": 65, "lo": 57, "hi": 73},
      {"w": 6576, "f": 41, "lo": 34, "hi": 48}, {"w": 6620, "f": 21, "lo": 14, "hi": 28},
      {"w": 6664, "f": 40, "lo": 33, "hi": 47}, {"w": 6708, "f": 33, "lo": 26, "hi": 40},
      {"w": 6752, "f": 38, "lo": 31, "hi": 45}, {"w": 6796, "f": 44, "lo": 37, "hi": 51},
      {"w": 6818, "f": 52, "lo": 45, "hi": 59}, {"w": 6828, "f": 108, "lo": 96, "hi": 118},
      {"w": 6838, "f": 40, "lo": 32, "hi": 48}, {"w": 6848, "f": 20, "lo": 12, "hi": 28},
      {"w": 6870, "f": 28, "lo": 20, "hi": 36}, {"w": 6899, "f": 46, "lo": 38, "hi": 54},
      {"w": 6929, "f": 41, "lo": 33, "hi": 49}, {"w": 6958, "f": 36, "lo": 28, "hi": 44},
      {"w": 6988, "f": 46, "lo": 38, "hi": 54}, {"w": 7017, "f": 28, "lo": 20, "hi": 36},
      {"w": 7062, "f": 46, "lo": 38, "hi": 54}, {"w": 7091, "f": 54, "lo": 46, "hi": 62},
      {"w": 7120, "f": 38, "lo": 30, "hi": 46}, {"w": 7165, "f": 52, "lo": 44, "hi": 60},
      {"w": 7209, "f": 38, "lo": 30, "hi": 46}, {"w": 7239, "f": 44, "lo": 36, "hi": 52},
      {"w": 7283, "f": 35, "lo": 27, "hi": 43}, {"w": 7312, "f": 44, "lo": 36, "hi": 52},
      {"w": 7342, "f": 52, "lo": 44, "hi": 60}, {"w": 7371, "f": 60, "lo": 52, "hi": 68},
      {"w": 7401, "f": 60, "lo": 52, "hi": 68}, {"w": 7430, "f": 49, "lo": 41, "hi": 57},
      {"w": 7460, "f": 44, "lo": 36, "hi": 52}, {"w": 7489, "f": 62, "lo": 54, "hi": 70},
      {"w": 7519, "f": 46, "lo": 38, "hi": 54}, {"w": 7563, "f": 38, "lo": 30, "hi": 46},
      {"w": 7593, "f": 22, "lo": 13, "hi": 31}, {"w": 7637, "f": 44, "lo": 36, "hi": 52},
      {"w": 7681, "f": 38, "lo": 30, "hi": 46}, {"w": 7725, "f": 20, "lo": 11, "hi": 29},
      {"w": 7755, "f": 47, "lo": 39, "hi": 55}, {"w": 7784, "f": 77, "lo": 68, "hi": 86},
      {"w": 7814, "f": 58, "lo": 50, "hi": 66}, {"w": 7843, "f": 41, "lo": 33, "hi": 49},
      {"w": 7888, "f": 49, "lo": 41, "hi": 57}, {"w": 7932, "f": 38, "lo": 30, "hi": 46},
      {"w": 7976, "f": 47, "lo": 39, "hi": 55}, {"w": 8020, "f": 41, "lo": 33, "hi": 49},
      {"w": 8064, "f": 62, "lo": 54, "hi": 70}, {"w": 8094, "f": 36, "lo": 28, "hi": 44},
      {"w": 8124, "f": 44, "lo": 36, "hi": 52}, {"w": 8153, "f": 46, "lo": 38, "hi": 54},
      {"w": 8183, "f": 41, "lo": 33, "hi": 49}, {"w": 8212, "f": 44, "lo": 36, "hi": 52},
      {"w": 8242, "f": 54, "lo": 45, "hi": 63}, {"w": 8271, "f": 38, "lo": 29, "hi": 47},
      {"w": 8301, "f": 28, "lo": 18, "hi": 38}, {"w": 8330, "f": 52, "lo": 43, "hi": 61},
      {"w": 8374, "f": 28, "lo": 18, "hi": 38}, {"w": 8404, "f": 25, "lo": 15, "hi": 35},
      {"w": 8433, "f": 66, "lo": 56, "hi": 76}, {"w": 8463, "f": 41, "lo": 31, "hi": 51},
      {"w": 8492, "f": 52, "lo": 42, "hi": 62}, {"w": 8522, "f": 37, "lo": 27, "hi": 47},
      {"w": 8567, "f": 32, "lo": 22, "hi": 42}, {"w": 8596, "f": 46, "lo": 36, "hi": 56},
      {"w": 8640, "f": 38, "lo": 28, "hi": 48}, {"w": 8684, "f": 33, "lo": 23, "hi": 43},
      {"w": 8729, "f": 33, "lo": 23, "hi": 43}, {"w": 8773, "f": 32, "lo": 22, "hi": 42},
      {"w": 8817, "f": 36, "lo": 26, "hi": 46}, {"w": 8862, "f": 28, "lo": 17, "hi": 39},
      {"w": 8895, "f": 25, "lo": 14, "hi": 36}, {"w": 8906, "f": 78, "lo": 66, "hi": 90},
      {"w": 8918, "f": 28, "lo": 17, "hi": 39}, {"w": 8950, "f": 42, "lo": 31, "hi": 53},
      {"w": 8994, "f": 32, "lo": 21, "hi": 43}, {"w": 9024, "f": 36, "lo": 25, "hi": 47},
      {"w": 9053, "f": 19, "lo": 8, "hi": 30}, {"w": 9083, "f": 54, "lo": 43, "hi": 65},
      {"w": 9112, "f": 47, "lo": 36, "hi": 58}, {"w": 9142, "f": 52, "lo": 41, "hi": 63},
      {"w": 9165, "f": 98, "lo": 85, "hi": 110}, {"w": 9186, "f": 32, "lo": 20, "hi": 44},
      {"w": 9216, "f": 36, "lo": 24, "hi": 48}, {"w": 9245, "f": 41, "lo": 29, "hi": 53},
      {"w": 9275, "f": 28, "lo": 16, "hi": 40}, {"w": 9304, "f": 32, "lo": 20, "hi": 44},
      {"w": 9334, "f": 19, "lo": 6, "hi": 32}, {"w": 9363, "f": 20, "lo": 7, "hi": 33},
      {"w": 9393, "f": 5, "lo": -15, "hi": 22}, {"w": 9422, "f": 14, "lo": 0, "hi": 28},
      {"w": 9452, "f": 22, "lo": 8, "hi": 36}, {"w": 9481, "f": 30, "lo": 17, "hi": 43},
      {"w": 9525, "f": 38, "lo": 25, "hi": 51}, {"w": 9570, "f": 28, "lo": 15, "hi": 41},
      {"w": 9614, "f": 36, "lo": 23, "hi": 49}, {"w": 9658, "f": 19, "lo": 6, "hi": 32},
      {"w": 9688, "f": 0, "lo": -14, "hi": 14}, {"w": 9717, "f": 19, "lo": 6, "hi": 32},
      {"w": 9761, "f": 30, "lo": 17, "hi": 43}, {"w": 9805, "f": 27, "lo": 14, "hi": 40},
      {"w": 9835, "f": 19, "lo": 6, "hi": 32}, {"w": 9879, "f": 30, "lo": 17, "hi": 43},
      {"w": 9909, "f": 10, "lo": -4, "hi": 24}, {"w": 9938, "f": 32, "lo": 19, "hi": 45},
      {"w": 9970, "f": 25, "lo": 12, "hi": 38}
    ],
    "lines": [
      {"w": 6828, "top": 180, "bot": -162, "label": "[OII]", "ly": 201},
      {"w": 8905, "top": 180, "bot": -166, "label": "Hb", "ly": 201},
      {"w": 9173, "top": 180, "bot": -166, "label": "[OIII]", "ly": 203}
    ],
    "notes": [
      {"w": 4762, "f": 223, "t": "Remarks: [OII]d,Hb,[OIII]d"},
      {"w": 6283, "f": -166, "t": "spec1d.m30c.064.MIPS_5012 (z = 0.832, Qf = 4)"}
    ]
  },
  "layer": [
    {
      "data": {"name": "gray"},
      "mark": {"type": "line", "color": "#bcbcbc", "opacity": 0.65, "strokeWidth": 0.9, "clip": true},
      "encoding": {
        "x": {
          "field": "w", "type": "quantitative",
          "scale": {"domain": [4558, 10174], "nice": false, "zero": false},
          "axis": {
            "orient": "bottom", "values": [5000, 6000, 7000, 8000, 9000, 10000],
            "tickSize": -7, "labelPadding": 15, "format": "d",
            "title": "observed wavelength (Å)", "titlePadding": 12
          }
        },
        "y": {
          "field": "f", "type": "quantitative",
          "scale": {"domain": [-178, 238], "nice": false, "zero": false},
          "axis": {
            "orient": "left", "values": [-100, 0, 100, 200],
            "tickSize": -7, "labelPadding": 13, "labelAngle": 270,
            "labelAlign": "center", "labelBaseline": "bottom",
            "title": "Flux (counts or calibrated in 1e-17 erg/s/cm²/Å)", "titlePadding": 18
          }
        },
        "detail": {"field": "s"}
      }
    },
    {
      "data": {"name": "skyline"},
      "mark": {"type": "rule", "color": "#c8c8c8", "strokeWidth": 1.2, "clip": true},
      "encoding": {
        "x": {
          "field": "w", "type": "quantitative",
          "axis": {"orient": "top", "values": [5000, 6000, 7000, 8000, 9000, 10000], "tickSize": -7, "labels": false, "title": null}
        },
        "y": {
          "field": "lo", "type": "quantitative",
          "axis": {"orient": "right", "values": [-100, 0, 100, 200], "tickSize": -7, "labels": false, "title": null}
        },
        "y2": {"field": "hi"}
      }
    },
    {
      "data": {"name": "red"},
      "mark": {"type": "line", "color": "#f47c7c", "strokeWidth": 0.8, "clip": true},
      "encoding": {
        "x": {
          "field": "w", "type": "quantitative",
          "axis": {
            "orient": "bottom", "domain": false, "labels": false, "title": null, "tickSize": -4,
            "values": [4600, 4700, 4800, 4900, 5100, 5200, 5300, 5400, 5500, 5600, 5700, 5800, 5900, 6100, 6200, 6300, 6400, 6500, 6600, 6700, 6800, 6900, 7100, 7200, 7300, 7400, 7500, 7600, 7700, 7800, 7900, 8100, 8200, 8300, 8400, 8500, 8600, 8700, 8800, 8900, 9100, 9200, 9300, 9400, 9500, 9600, 9700, 9800, 9900, 10100]
          }
        },
        "y": {
          "field": "f", "type": "quantitative",
          "axis": {
            "orient": "left", "domain": false, "labels": false, "title": null, "tickSize": -4,
            "values": [-170, -160, -150, -140, -130, -120, -110, -90, -80, -70, -60, -50, -40, -30, -20, -10, 10, 20, 30, 40, 50, 60, 70, 80, 90, 110, 120, 130, 140, 150, 160, 170, 180, 190, 210, 220, 230]
          }
        }
      }
    },
    {
      "data": {"name": "blue"},
      "mark": {"type": "area", "color": "#6a6ae0", "opacity": 0.7, "clip": true},
      "encoding": {
        "x": {
          "field": "w", "type": "quantitative",
          "axis": {
            "orient": "top", "domain": false, "labels": false, "title": null, "tickSize": -4,
            "values": [4600, 4700, 4800, 4900, 5100, 5200, 5300, 5400, 5500, 5600, 5700, 5800, 5900, 6100, 6200, 6300, 6400, 6500, 6600, 6700, 6800, 6900, 7100, 7200, 7300, 7400, 7500, 7600, 7700, 7800, 7900, 8100, 8200, 8300, 8400, 8500, 8600, 8700, 8800, 8900, 9100, 9200, 9300, 9400, 9500, 9600, 9700, 9800, 9900, 10100]
          }
        },
        "y": {
          "field": "lo", "type": "quantitative",
          "axis": {
            "orient": "right", "domain": false, "labels": false, "title": null, "tickSize": -4,
            "values": [-170, -160, -150, -140, -130, -120, -110, -90, -80, -70, -60, -50, -40, -30, -20, -10, 10, 20, 30, 40, 50, 60, 70, 80, 90, 110, 120, 130, 140, 150, 160, 170, 180, 190, 210, 220, 230]
          }
        },
        "y2": {"field": "hi"}
      }
    },
    {
      "data": {"name": "blue"},
      "mark": {"type": "line", "color": "#3a3ad6", "strokeWidth": 1, "clip": true},
      "encoding": {
        "x": {"field": "w", "type": "quantitative", "axis": null},
        "y": {"field": "f", "type": "quantitative", "axis": null}
      }
    },
    {
      "data": {"name": "lines"},
      "mark": {"type": "rule", "color": "#1f9e1f", "strokeWidth": 1, "strokeDash": [3, 2]},
      "encoding": {
        "x": {"field": "w", "type": "quantitative", "axis": null},
        "y": {"field": "top", "type": "quantitative", "axis": null},
        "y2": {"field": "bot"}
      }
    },
    {
      "data": {"name": "lines"},
      "mark": {"type": "text", "color": "#1f9e1f", "fontSize": 12, "angle": 315, "align": "center", "baseline": "middle", "font": "Liberation Sans"},
      "encoding": {
        "x": {"field": "w", "type": "quantitative", "axis": null},
        "y": {"field": "ly", "type": "quantitative", "axis": null},
        "text": {"field": "label"}
      }
    },
    {
      "data": {"name": "notes"},
      "mark": {"type": "text", "color": "black", "fontSize": 12, "align": "left", "baseline": "middle", "font": "Liberation Sans"},
      "encoding": {
        "x": {"field": "w", "type": "quantitative", "axis": null},
        "y": {"field": "f", "type": "quantitative", "axis": null},
        "text": {"field": "t"}
      }
    }
  ],
  "resolve": {"axis": {"x": "independent", "y": "independent"}}
}
